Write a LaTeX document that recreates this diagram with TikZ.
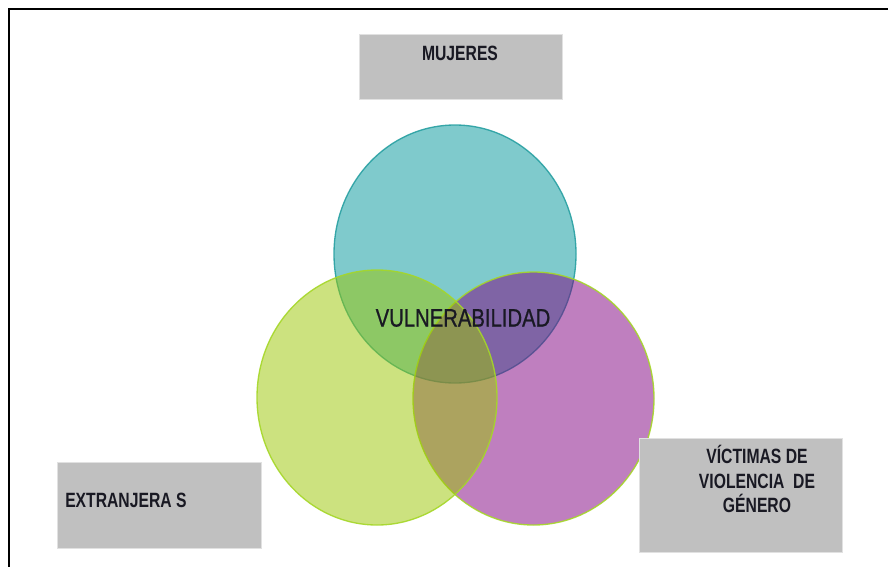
\documentclass[tikz,border=0pt]{standalone}
\usepackage{fontspec}
\setmainfont{Liberation Sans}
\newfontfamily\narrowbold[FakeStretch=0.76]{Liberation Sans Bold}
\newfontfamily\narrowreg[FakeStretch=0.80,FakeBold=0.8]{Liberation Sans}
\definecolor{tealbase}{RGB}{0,151,155}
\definecolor{greenbase}{RGB}{155,199,0}
\definecolor{purplebase}{RGB}{128,0,128}
\definecolor{tealline}{RGB}{40,160,162}
\definecolor{limeline}{RGB}{165,215,40}
\definecolor{boxgray}{RGB}{192,192,192}
\definecolor{boxline}{RGB}{225,225,225}
\definecolor{txt}{RGB}{25,25,35}
\begin{document}
\begin{tikzpicture}[x=0.75pt,y=-0.75pt,
  labelbox/.style={fill=boxgray,draw=boxline,line width=0.75pt},
  venn/.style={fill opacity=0.5,draw opacity=0.9,line width=1pt},
  lbl/.style={font=\narrowbold\fontsize{15.5}{18.5}\selectfont,text=txt,inner sep=0pt}]
\useasboundingbox (0,0) rectangle (888,567);
\fill[white] (0,0) rectangle (888,567);
% frame
\coordinate (ftl) at (9,9);
\coordinate (ftr) at (888,9);
\coordinate (fbl) at (9,567);
\draw[line width=1.6pt,line cap=rect] (fbl) -- (ftl) -- (ftr);
% circles
\path[venn,fill=tealbase,draw=tealline] (455,254) ellipse [x radius=121, y radius=129];
\path[venn,fill=purplebase,draw=limeline] (533.5,398.5) ellipse [x radius=120.5, y radius=126.5];
\path[venn,fill=greenbase,draw=limeline] (377,397.5) ellipse [x radius=120, y radius=127.5];
% boxes
\node[labelbox,minimum width=203*0.75pt,minimum height=64*0.75pt,inner sep=0pt] (bm) at (460.5,67) {};
\node[labelbox,minimum width=204*0.75pt,minimum height=86*0.75pt,inner sep=0pt] (be) at (159,505) {};
\node[labelbox,minimum width=203*0.75pt,minimum height=114*0.75pt,inner sep=0pt] (bv) at (740.5,495) {};
% texts
\node[lbl] (tm) at (460,53) {MUJERES};
\node[lbl,anchor=west] (te) at (65,500) {EXTRANJERA S};
\node[lbl,align=center] (tv) at (757,479) {VÍCTIMAS DE\\VIOLENCIA\ \ DE\\GÉNERO};
\node[font=\narrowreg\fontsize{19}{22}\selectfont,text=txt,inner sep=0pt] (tc) at (463,318) {VULNERABILIDAD};
\end{tikzpicture}
\end{document}
